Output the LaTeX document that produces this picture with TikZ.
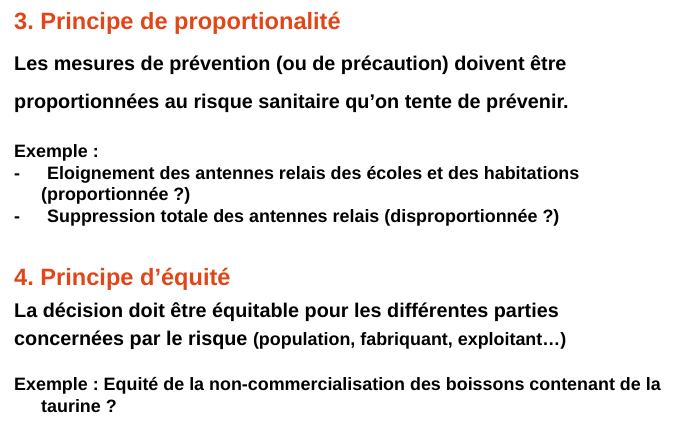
\documentclass[tikz,border=0pt]{standalone}
\usepackage{fontspec}
\setmainfont{Liberation Sans}
\definecolor{orangetitre}{RGB}{226,70,22}
\tikzset{
	texte/.style={anchor=base west,inner sep=0pt,font=\bfseries\fontsize{19.8}{24}\selectfont},
	titre/.style={texte,text=orangetitre,font=\bfseries\fontsize{23.6}{28}\selectfont},
	exemple/.style={texte,font=\bfseries\fontsize{17.9}{22}\selectfont}
}
\frenchspacing
\begin{document}
\begin{tikzpicture}[x=1pt,y=-1pt]
	\useasboundingbox (0,0) rectangle (680,427);
	\pgfmathsetmacro\XG{14}
	\pgfmathsetmacro\XP{47}
	\pgfmathsetmacro\XS{41}
	
	% 3. proportionnalite
	\node[titre] (T3) at (\XG,30) {3. Principe de proportionalité};
	\node[texte] (L1) at (\XG,71) {Les mesures de prévention (ou de précaution) doivent être};
	\node[texte] (L2) at (\XG,109) {proportionnées au risque sanitaire qu’on tente de prévenir.};
	\node[exemple] (E1) at (\XG,158) {Exemple :};
	\node[exemple] (D1) at (\XG,180) {-};
	\node[exemple] (P1) at (\XP,180) {Eloignement des antennes relais des écoles et des habitations};
	\node[exemple] (P1b) at (\XS,201) {(proportionnée ?)};
	\node[exemple] (D2) at (\XG,223) {-};
	\node[exemple] (P2) at (\XP,223) {Suppression totale des antennes relais (disproportionnée ?)};
	
	% 4. equite
	\node[titre] (T4) at (\XG,286) {4. Principe d’équité};
	\node[texte] (L3) at (\XG,318) {La décision doit être équitable pour les différentes parties};
	\node[texte] (L4) at (\XG,346) {concernées par le risque {\fontsize{17.9}{20}\selectfont(population, fabriquant, exploitant…)}};
	\node[exemple] (E2) at (\XG,391) {Exemple : Equité de la non-commercialisation des boissons contenant de la};
	\node[exemple] (E2b) at (\XS,413) {taurine ?};
\end{tikzpicture}
\end{document}
